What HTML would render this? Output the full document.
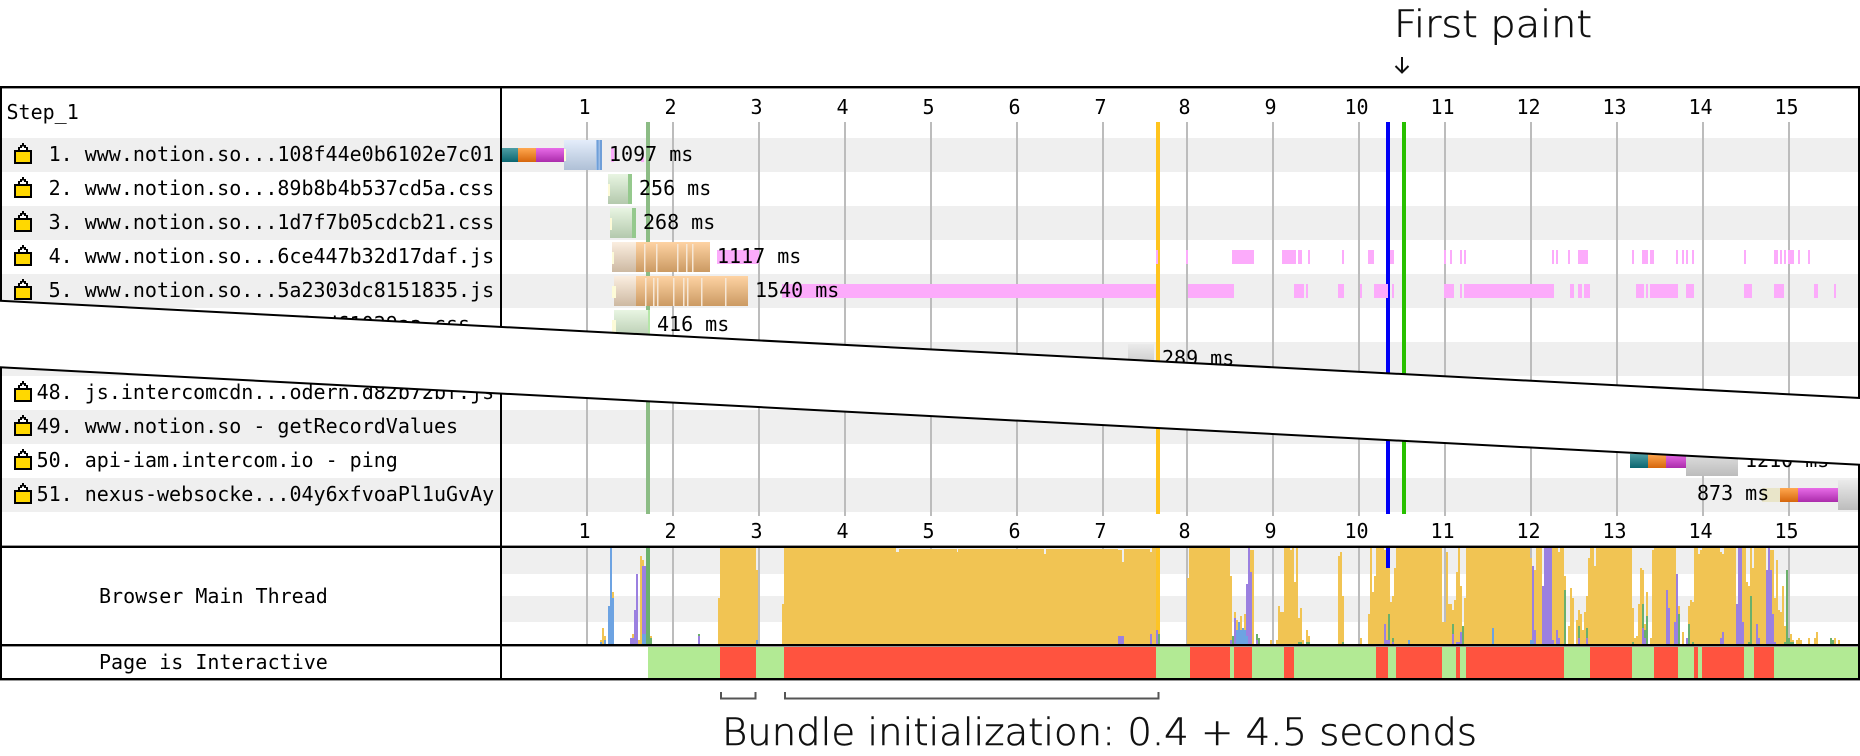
<!DOCTYPE html>
<html><head><meta charset="utf-8"><style>
html,body{margin:0;padding:0;background:#fff;width:1860px;height:756px;overflow:hidden}
svg{display:block}
.m{font-family:"DejaVu Sans Mono","Liberation Mono",monospace;font-size:20px;fill:#000}
.a{text-anchor:middle}
.t{font-family:"DejaVu Sans","Liberation Sans",sans-serif;font-size:37px;font-weight:200;fill:#111;stroke:#111;stroke-width:.55px}
</style></head><body>
<svg width="1860" height="756" viewBox="0 0 1860 756" xmlns="http://www.w3.org/2000/svg">
<defs>
<linearGradient id="gt" x1="0" y1="0" x2="0" y2="1"><stop offset="0" stop-color="#4f9ea4"/><stop offset="1" stop-color="#0b6670"/></linearGradient>
<linearGradient id="go" x1="0" y1="0" x2="0" y2="1"><stop offset="0" stop-color="#ffa850"/><stop offset="1" stop-color="#d5660c"/></linearGradient>
<linearGradient id="gm" x1="0" y1="0" x2="0" y2="1"><stop offset="0" stop-color="#e86ce8"/><stop offset="1" stop-color="#ab2cab"/></linearGradient>
<linearGradient id="gb" x1="0" y1="0" x2="0" y2="1"><stop offset="0" stop-color="#e4edfb"/><stop offset="1" stop-color="#afc0d6"/></linearGradient>
<linearGradient id="gc" x1="0" y1="0" x2="0" y2="1"><stop offset="0" stop-color="#e8f5e2"/><stop offset="1" stop-color="#b4c9ad"/></linearGradient>
<linearGradient id="gj" x1="0" y1="0" x2="0" y2="1"><stop offset="0" stop-color="#fbeee0"/><stop offset="1" stop-color="#cdb9a2"/></linearGradient>
<linearGradient id="gd" x1="0" y1="0" x2="0" y2="1"><stop offset="0" stop-color="#fed3a3"/><stop offset="1" stop-color="#cb9a63"/></linearGradient>
<linearGradient id="gg" x1="0" y1="0" x2="0" y2="1"><stop offset="0" stop-color="#ebebeb"/><stop offset="1" stop-color="#bcbcbc"/></linearGradient>
<g id="lk" shape-rendering="crispEdges">
<path fill="#000" d="M18 150V147H20V145H22V143H24V145H26V147H28V150z"/>
<path fill="#fff" d="M20 150V148H22V146.5H24V148H26V150z"/>
<rect x="14" y="150" width="18" height="14" fill="#000"/>
<rect x="16" y="152" width="14" height="10" fill="#ffd800"/>
</g>
</defs>

<!-- row bands -->
<g fill="#efefef">
<rect x="2" y="138" width="1856" height="34"/><rect x="2" y="206" width="1856" height="34"/><rect x="2" y="274" width="1856" height="34"/><rect x="2" y="342" width="1856" height="34"/>
<rect x="2" y="410" width="1856" height="34"/><rect x="2" y="478" width="1856" height="34"/>
<rect x="502" y="548" width="1356" height="26"/><rect x="502" y="596" width="1356" height="26"/>
</g>

<!-- grid lines -->
<path fill="#bcbcbc" d="M586 122h2v394h-2zM672 122h2v394h-2zM758 122h2v394h-2zM844 122h2v394h-2zM930 122h2v394h-2zM1016 122h2v394h-2zM1102 122h2v394h-2zM1186 122h2v394h-2zM1272 122h2v394h-2zM1358 122h2v394h-2zM1444 122h2v394h-2zM1530 122h2v394h-2zM1616 122h2v394h-2zM1702 122h2v394h-2zM1788 122h2v394h-2z
M586 548h2v96h-2zM672 548h2v96h-2zM758 548h2v96h-2zM844 548h2v96h-2zM930 548h2v96h-2zM1016 548h2v96h-2zM1102 548h2v96h-2zM1186 548h2v96h-2zM1272 548h2v96h-2zM1358 548h2v96h-2zM1444 548h2v96h-2zM1530 548h2v96h-2zM1616 548h2v96h-2zM1702 548h2v96h-2zM1788 548h2v96h-2z"/>

<!-- event lines -->
<rect x="646" y="122" width="4" height="392" fill="#8cbc85"/>
<rect x="1156" y="122" width="4" height="392" fill="#ffc41e"/>
<rect x="1386" y="122" width="4" height="392" fill="#0000f5"/>
<rect x="1402" y="122" width="4" height="392" fill="#28c000"/>

<!-- pink JS execution -->
<path fill="#fcabfb" d="M717 250h42v14h-42z
M1156 250h2v14h-2zM1186 250h2v14h-2zM1232 250h22v14h-22zM1282 250h14v14h-14zM1298 250h4v14h-4zM1308 250h2v14h-2zM1342 250h2v14h-2zM1368 250h6v14h-6zM1390 250h4v14h-4zM1444 250h2v14h-2zM1450 250h2v14h-2zM1460 250h2v14h-2zM1464 250h2v14h-2zM1552 250h2v14h-2zM1556 250h2v14h-2zM1568 250h2v14h-2zM1578 250h10v14h-10zM1632 250h2v14h-2zM1642 250h6v14h-6zM1650 250h4v14h-4zM1676 250h2v14h-2zM1682 250h2v14h-2zM1686 250h2v14h-2zM1692 250h2v14h-2zM1744 250h2v14h-2zM1774 250h4v14h-4zM1780 250h2v14h-2zM1784 250h2v14h-2zM1788 250h6v14h-6zM1798 250h2v14h-2zM1808 250h2v14h-2z
M782 284H1156v14H782zM1188 284h46v14h-46zM1294 284h10v14h-10zM1306 284h2v14h-2zM1338 284h6v14h-6zM1360 284h2v14h-2zM1374 284h14v14h-14zM1392 284h2v14h-2zM1444 284h10v14h-10zM1460 284h2v14h-2zM1464 284h90v14h-90zM1570 284h4v14h-4zM1578 284h4v14h-4zM1584 284h6v14h-6zM1636 284h8v14h-8zM1646 284h2v14h-2zM1650 284h28v14h-28zM1686 284h8v14h-8zM1744 284h8v14h-8zM1774 284h10v14h-10zM1814 284h4v14h-4zM1834 284h2v14h-2z
M611 148h3v14h-3zM641 157h3v5h-3z"/>

<!-- waterfall bars -->
<rect x="502" y="148" width="16" height="14" fill="url(#gt)"/>
<rect x="518" y="148" width="18" height="14" fill="url(#go)"/>
<rect x="536" y="148" width="28" height="14" fill="url(#gm)"/>
<rect x="564" y="140" width="38" height="30" fill="url(#gb)"/>
<rect x="596" y="140" width="6" height="30" fill="#9dbde6"/><rect x="597" y="140" width="1.5" height="30" fill="#6f9fd8"/><rect x="600" y="140" width="2" height="30" fill="#6f9fd8"/>

<rect x="608" y="174" width="24" height="30" fill="url(#gc)"/><rect x="628" y="174" width="4" height="30" fill="#95c98d"/>
<rect x="610" y="208" width="26" height="30" fill="url(#gc)"/><rect x="632" y="208" width="4" height="30" fill="#95c98d"/>

<rect x="612" y="242" width="24" height="30" fill="url(#gj)"/>
<rect x="636" y="242" width="74" height="30" fill="url(#gd)"/>
<g fill="#f6e7d6"><rect x="644" y="244" width="1.5" height="28"/><rect x="656" y="244" width="1.5" height="28"/><rect x="677" y="244" width="1.5" height="28"/><rect x="686" y="244" width="1.5" height="28"/><rect x="692" y="244" width="1.5" height="28"/></g>

<rect x="614" y="276" width="22" height="30" fill="url(#gj)"/>
<rect x="636" y="276" width="112" height="30" fill="url(#gd)"/>
<g fill="#f6e7d6"><rect x="645" y="278" width="1.5" height="28"/><rect x="653" y="278" width="1.5" height="28"/><rect x="657" y="278" width="1.5" height="28"/><rect x="673" y="278" width="1.5" height="28"/><rect x="683" y="278" width="1.5" height="28"/><rect x="687" y="278" width="1.5" height="28"/><rect x="701" y="278" width="1.5" height="28"/><rect x="725" y="278" width="1.5" height="28"/></g>

<rect x="614" y="310" width="36" height="30" fill="url(#gc)"/><rect x="648" y="310" width="2" height="30" fill="#b5e6a8"/>
<rect x="1128" y="344" width="26" height="30" fill="url(#gg)"/>
<g fill="#fdfbd8"><rect x="564" y="149" width="2" height="12"/><rect x="608" y="184" width="2" height="12"/><rect x="610" y="218" width="2" height="12"/><rect x="612" y="252" width="2" height="12"/><rect x="612" y="286" width="4" height="12"/><rect x="612" y="320" width="4" height="14"/></g>

<rect x="1630" y="454" width="18" height="14" fill="url(#gt)"/>
<rect x="1648" y="454" width="18" height="14" fill="url(#go)"/>
<rect x="1666" y="454" width="22" height="14" fill="url(#gm)"/>
<rect x="1686" y="446" width="52" height="30" fill="url(#gg)"/>
<rect x="1762" y="488" width="18" height="14" fill="#e9e5c9"/>
<rect x="1780" y="488" width="18" height="14" fill="url(#go)"/>
<rect x="1798" y="488" width="42" height="14" fill="url(#gm)"/>
<rect x="1838" y="480" width="20" height="30" fill="url(#gg)"/>

<!-- time labels -->
<g class="m">
<text x="609" y="161">1097 ms</text>
<text x="639" y="195">256 ms</text>
<text x="643" y="229">268 ms</text>
<text x="717" y="263">1117 ms</text>
<text x="755" y="297">1540 ms</text>
<text x="657" y="331">416 ms</text>
<text x="1162" y="365">289 ms</text>
<text x="1745" y="467">1210 ms</text>
<text x="1697" y="500">873 ms</text>
</g>

<!-- axis numbers -->
<g class="m a">
<text x="584.5" y="114">1</text><text x="670.5" y="114">2</text><text x="756.5" y="114">3</text><text x="842.5" y="114">4</text><text x="928.5" y="114">5</text><text x="1014.5" y="114">6</text><text x="1100.5" y="114">7</text><text x="1184.5" y="114">8</text><text x="1270.5" y="114">9</text><text x="1356.5" y="114">10</text><text x="1442.5" y="114">11</text><text x="1528.5" y="114">12</text><text x="1614.5" y="114">13</text><text x="1700.5" y="114">14</text><text x="1786.5" y="114">15</text>
<text x="584.5" y="538">1</text><text x="670.5" y="538">2</text><text x="756.5" y="538">3</text><text x="842.5" y="538">4</text><text x="928.5" y="538">5</text><text x="1014.5" y="538">6</text><text x="1100.5" y="538">7</text><text x="1184.5" y="538">8</text><text x="1270.5" y="538">9</text><text x="1356.5" y="538">10</text><text x="1442.5" y="538">11</text><text x="1528.5" y="538">12</text><text x="1614.5" y="538">13</text><text x="1700.5" y="538">14</text><text x="1786.5" y="538">15</text>
</g>

<!-- row labels -->
<g class="m">
<text x="6.5" y="119">Step_1</text>
<text x="48.6" y="161">1. www.notion.so...108f44e0b6102e7c01</text>
<text x="48.6" y="195">2. www.notion.so...89b8b4b537cd5a.css</text>
<text x="48.6" y="229">3. www.notion.so...1d7f7b05cdcb21.css</text>
<text x="48.6" y="263">4. www.notion.so...6ce447b32d17daf.js</text>
<text x="48.6" y="297">5. www.notion.so...5a2303dc8151835.js</text>
<text x="48.6" y="331">6. www.notion.so...9c3ed61029aa.css</text>
<text x="36.6" y="399">48. js.intercomcdn...odern.d82b72bf.js</text>
<text x="36.6" y="433">49. www.notion.so - getRecordValues</text>
<text x="36.6" y="467">50. api-iam.intercom.io - ping</text>
<text x="36.6" y="501">51. nexus-websocke...04y6xfvoaPl1uGvAy</text>
<text x="99" y="603">Browser Main Thread</text>
<text x="99" y="669">Page is Interactive</text>
</g>

<!-- lock icons -->
<use href="#lk"/>
<use href="#lk" y="34"/>
<use href="#lk" y="68"/>
<use href="#lk" y="102"/>
<use href="#lk" y="136"/>
<use href="#lk" y="238"/>
<use href="#lk" y="272"/>
<use href="#lk" y="306"/>
<use href="#lk" y="340"/>

<!-- main thread: blue line behind yellow -->
<rect x="1386" y="548" width="4" height="20" fill="#0000f5"/>
<rect x="646" y="548" width="4" height="96" fill="#8cbc85"/>

<!-- main thread yellow -->
<path fill="#f1c453" d="M600 644V640H604V644zM602 644V628H604V644zM604 644V636H606V644zM612 644V592H614V644zM632 644V634H634V644zM638 644V640H640V644zM640 644V556H642V644zM642 644V560H644V644zM650 644V636H652V644z
M718 644V598H720V644zM720 644V548H756V644zM756 644V570H758V644z
M782 644V604H784V644zM784 644V548H896V644zM896 644V552H899V644zM899 644V549H957V644zM957 644V552H958V644zM958 644V549H1044V644zM1044 644V554H1046V644zM1046 644V549H1118V644zM1118 644V550H1122V644zM1122 644V562H1124V644zM1124 644V549H1150V644zM1150 644V552H1152V644zM1152 644V548H1160V644z
M1187 644V578H1189V644zM1189 644V548H1230V644zM1230 644V576H1232V644zM1234 644V612H1236V644zM1236 644V620H1238V644zM1240 644V616H1242V644zM1244 644V614H1246V644zM1250 644V550H1254V644zM1270 644V640H1272V644zM1276 644V640H1278V644z
M1278 644V606H1280V644zM1280 644V612H1284V644zM1284 644V548H1290V644zM1290 644V550H1292V644zM1292 644V548H1294V644zM1294 644V582H1296V644zM1296 644V548H1298V644zM1298 644V618H1300V644zM1300 644V608H1302V644zM1302 644V640H1304V644zM1306 644V630H1308V644zM1308 644V636H1310V644z
M1338 644V556H1340V644zM1340 644V552H1342V644zM1342 644V596H1344V644zM1360 644V638H1362V644z
M1368 644V614H1370V644zM1370 644V548H1372V644zM1372 644V592H1374V644zM1374 644V576H1376V644zM1376 644V548H1384V644zM1384 644V550H1386V644zM1386 644V568H1390V644zM1390 644V602H1392V644zM1392 644V596H1394V644zM1394 644V568H1396V644zM1396 644V548H1442V644zM1442 644V622H1446V644zM1446 644V552H1448V644zM1448 644V604H1452V644zM1452 644V610H1454V644zM1454 644V600H1456V644zM1456 644V572H1458V644zM1458 644V548H1460V644zM1460 644V586H1462V644zM1464 644V598H1466V644zM1466 644V548H1530V644z
M1530 644V558H1532V644zM1532 644V570H1536V644zM1536 644V548H1542V644zM1552 644V548H1558V644zM1558 644V552H1560V644zM1560 644V548H1564V644zM1564 644V576H1566V644zM1568 644V626H1570V644zM1570 644V588H1572V644zM1572 644V598H1574V644zM1576 644V620H1578V644zM1578 644V610H1580V644zM1580 644V614H1582V644zM1582 644V630H1584V644zM1584 644V612H1586V644zM1586 644V596H1588V644zM1588 644V558H1590V644zM1590 644V548H1594V644zM1594 644V566H1596V644zM1596 644V548H1632V644z
M1632 644V608H1634V644zM1634 644V638H1636V644zM1636 644V636H1638V644zM1638 644V604H1640V644zM1640 644V568H1642V644zM1642 644V570H1644V644zM1644 644V624H1646V644zM1646 644V592H1648V644zM1650 644V638H1652V644zM1652 644V550H1654V644zM1654 644V548H1676V644zM1678 644V606H1680V644zM1682 644V632H1684V644zM1688 644V606H1690V644zM1690 644V600H1692V644zM1692 644V602H1694V644zM1694 644V548H1698V644zM1698 644V554H1700V644zM1700 644V550H1702V644zM1702 644V548H1720V644zM1720 644V552H1722V644zM1722 644V554H1724V644zM1724 644V548H1736V644zM1742 644V548H1746V644zM1746 644V582H1748V644zM1748 644V586H1750V644zM1750 644V548H1752V644zM1752 644V568H1754V644zM1754 644V548H1766V644zM1770 644V550H1774V644zM1774 644V598H1776V644zM1776 644V560H1778V644zM1778 644V610H1780V644zM1780 644V612H1782V644zM1782 644V586H1784V644zM1784 644V626H1786V644zM1786 644V570H1788V644zM1790 644V634H1792V644zM1792 644V640H1794V644zM1796 644V640H1802V644zM1798 644V638H1800V644zM1808 644V638H1810V644zM1814 644V638H1816V644zM1816 644V632H1818V644zM1834 644V638H1836V644zM1838 644V640H1840V644z"/>

<!-- purple tasks -->
<path fill="#9b80e0" d="M630 644V638H634V644zM634 644V610H638V644zM636 644V574H638V644zM642 644V566H646V644zM650 644V640H652V644zM698 644V636H700V644z
M1118 644V636H1124V644zM1150 644V634H1152V644zM1156 644V630H1158V644z
M1230 644V640H1232V644zM1234 644V618H1236V644zM1246 644V584H1248V644zM1248 644V548H1250V644zM1250 644V572H1252V644zM1256 644V640H1258V644z
M1384 644V624H1386V644zM1386 644V640H1390V644zM1392 644V642H1394V644zM1456 644V642H1460V644zM1460 644V632H1462V644zM1452 644V634H1454V644z
M1532 644V566H1534V644zM1534 644V630H1536V644zM1542 644V586H1544V644zM1544 644V548H1552V644zM1552 644V640H1554V644zM1556 644V630H1558V644zM1558 644V638H1560V644zM1578 644V638H1580V644zM1586 644V638H1588V644zM1642 644V628H1644V644zM1644 644V638H1646V644zM1666 644V590H1668V644zM1668 644V608H1670V644zM1674 644V622H1676V644zM1676 644V574H1678V644zM1686 644V638H1688V644zM1720 644V638H1724V644zM1722 644V632H1724V644zM1736 644V604H1738V644zM1738 644V548H1742V644zM1742 644V622H1744V644zM1756 644V624H1758V644zM1758 644V638H1760V644zM1766 644V570H1768V644zM1768 644V548H1770V644zM1770 644V570H1772V644zM1772 644V614H1774V644zM1774 644V642H1776V644z"/>

<!-- blue tasks -->
<path fill="#6da3e2" d="M600 644V642H602V644zM604 644V640H606V644zM608 644V606H612V644zM612 644V598H614V644zM610 606V548H612V606zM642 644V634H646V644zM756 644V640H758V644z
M1236 644V630H1246V644zM1238 644V622H1240V644zM1242 644V628H1244V644zM1246 644V636H1248V644zM1408 644V640H1410V644zM1492 644V628H1494V644zM1530 644V640H1534V644z"/>

<!-- green tasks -->
<path fill="#6bb06b" d="M646 644V548H650V644zM650 644V638H652V644zM698 636V634H700V636zM1158 644V634H1160V644z
M1232 644V636H1234V644zM1256 640V634H1258V640zM1258 644V638H1260V644zM1298 644V642H1302V644zM1306 644V642H1310V644zM1342 644V642H1344V644z
M1388 640V614H1390V640zM1392 642V638H1394V642zM1452 634V624H1454V634zM1462 644V626H1464V644zM1564 644V590H1566V644zM1578 638V626H1580V638zM1586 638V628H1588V638zM1632 644V642H1634V644zM1642 628V604H1644V628zM1646 644V616H1648V644zM1644 638V630H1646V638zM1678 644V614H1680V644zM1688 644V624H1690V644zM1692 644V642H1694V644zM1748 644V642H1750V644zM1750 644V596H1752V644zM1786 644V570H1788V644zM1784 644V642H1786V644zM1788 644V638H1790V644zM1790 644V642H1794V644zM1830 644V638H1832V644zM1832 644V640H1834V644z"/>
<rect x="1156" y="548" width="4" height="96" fill="#ffc41e" opacity=".85"/>
<path fill="#9b80e0" d="M1156 644V630H1158V644z"/>
<path fill="#6bb06b" d="M1158 644V634H1160V644z"/>

<!-- page is interactive -->
<rect x="648" y="647" width="1210" height="31" fill="#b2ea94"/>
<path fill="#ff533f" d="M720 647h36v31h-36zM784 647h372v31H784zM1190 647h40v31h-40zM1234 647h18v31h-18zM1284 647h10v31h-10zM1376 647h12v31h-12zM1396 647h46v31h-46zM1456 647h4v31h-4zM1466 647h98v31h-98zM1590 647h42v31h-42zM1654 647h24v31h-24zM1694 647h4v31h-4zM1702 647h42v31h-42zM1754 647h20v31h-20z"/>

<!-- frame lines -->
<g fill="#000">
<rect x="0" y="86" width="1860" height="2.4"/>
<rect x="0" y="545.6" width="1860" height="2.4"/>
<rect x="0" y="644" width="1860" height="2.4"/>
<rect x="0" y="678" width="1860" height="2.4"/>
<rect x="0" y="86" width="2" height="594"/>
<rect x="1858" y="86" width="2" height="594"/>
<rect x="500" y="86" width="2" height="594"/>
</g>

<!-- page cut -->
<polygon points="-2,300.6 1862,398.1 1862,464.9 -2,367.2" fill="#fff"/>
<line x1="-2" y1="300.6" x2="1862" y2="398.1" stroke="#000" stroke-width="2"/>
<line x1="-2" y1="367.2" x2="1862" y2="464.9" stroke="#000" stroke-width="2"/>

<!-- annotations -->
<text class="t" x="1394" y="37" textLength="198" lengthAdjust="spacingAndGlyphs">First paint</text>
<path d="M1402 57V72M1395.5 66L1402 72.5L1408.5 66" fill="none" stroke="#111" stroke-width="2"/>
<path d="M721 692V698.5H755.5V692M785 692V698.5H1158.5V692" fill="none" stroke="#555" stroke-width="2"/>
<text class="t" x="722" y="745" textLength="755" lengthAdjust="spacingAndGlyphs">Bundle initialization: 0.4 + 4.5 seconds</text>
</svg>
</body></html>
